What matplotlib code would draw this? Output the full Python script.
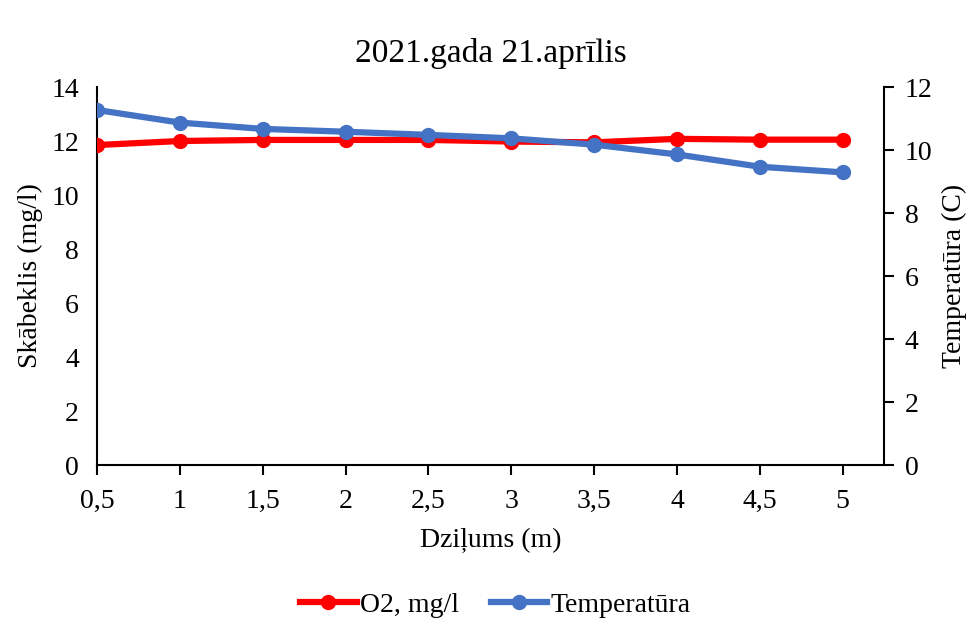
import matplotlib.pyplot as plt

plt.rcParams['font.family'] = ['Liberation Serif', 'DejaVu Serif']

depth_labels = ['0,5', '1', '1,5', '2', '2,5', '3', '3,5', '4', '4,5', '5']
o2_values = [11.85, 12.0, 12.04, 12.04, 12.04, 11.98, 11.95, 12.08, 12.05, 12.05]
temp_values = [11.27, 10.87, 10.67, 10.58, 10.48, 10.37, 10.17, 9.86, 9.47, 9.29]

fs = 20
fig = plt.figure(figsize=(9.67, 6.21), dpi=100)
ax = fig.add_axes([0.1003, 0.2512, 0.8139, 0.6087])
ax2 = ax.twinx()

x = list(range(len(depth_labels)))
l1, = ax.plot(x, o2_values, color='#ff0000', lw=4.5, marker='o', markersize=10,
              label='O2, mg/l', zorder=3)
l2, = ax2.plot(x, temp_values, color='#4472c4', lw=4.5, marker='o', markersize=10,
               label='Temperatūra', zorder=3)

ax.set_xlim(0, 9.5)
ax.set_ylim(0, 14)
ax.set_yticks(range(0, 15, 2))
ax2.set_ylim(0, 12)
ax2.set_yticks(range(0, 13, 2))
ax.set_xticks(x)
ax.set_xticklabels(depth_labels)

for a in (ax, ax2):
    a.spines['top'].set_visible(False)
    for s in a.spines.values():
        s.set_linewidth(1.5)
ax.spines['right'].set_visible(False)
ax2.spines['left'].set_visible(False)
ax2.spines['bottom'].set_visible(False)

ax.tick_params(axis='y', length=0, labelsize=fs, pad=13)
ax.tick_params(axis='x', length=7, width=1.5, labelsize=fs, pad=10)
ax2.tick_params(axis='y', length=7, width=1.5, labelsize=fs, pad=8)

ax.set_xlabel('Dziļums (m)', fontsize=fs, labelpad=10)
ax.set_ylabel('Skābeklis (mg/l)', fontsize=fs, labelpad=6)
ax2.set_ylabel('Temperatūra (C)', fontsize=fs, labelpad=7)
ax.set_title('2021.gada 21.aprīlis', fontsize=24, pad=18)

fig.legend([l1, l2], ['O2, mg/l', 'Temperatūra'], loc='center',
           bbox_to_anchor=(0.512, 0.025), ncol=2, frameon=False, fontsize=fs,
           handlelength=2.05, columnspacing=1.15, handletextpad=0.1)

fig.savefig('out.png', dpi=100)
